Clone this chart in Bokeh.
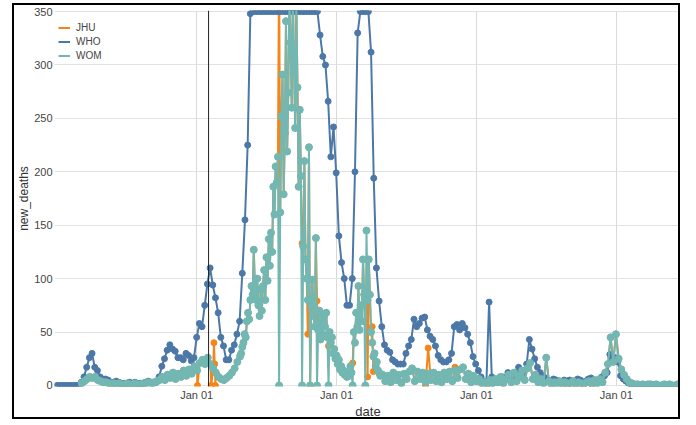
import pandas as pd
from bokeh.plotting import figure
from bokeh.models import Range1d, FixedTicker, DatetimeTickFormatter, Span, Legend, LegendItem
from bokeh.embed import file_html
from bokeh.resources import INLINE

# ---------------- data ----------------
# WHO: weekly points from 2020-01-03
who_start = "2020-01-03"
who_vals = [
    0, 0, 0, 0, 0, 0, 0, 0, 0,
    3, 8, 17, 26, 30, 17, 14, 8, 6, 6, 5, 3, 3,
    4, 3, 2, 2, 2, 3, 2, 3, 2, 2, 2, 3, 4, 3, 2, 3,
    8, 18, 25, 33, 38, 34, 32, 26, 26, 24, 30, 28, 23, 26,
    45, 58, 55, 75, 95, 110, 94, 82, 68, 45, 37, 24, 24, 33, 38, 48, 60, 105, 155, 225, 348,
    350, 350, 350, 350, 350,
    350, 350, 350, 350, 350,
    350, 350, 350, 350, 350,
    350, 350, 350, 350, 350,
    350, 350, 350, 350, 350,
    328, 308, 300, 266, 214, 242, 199, 140, 115, 100,
    75, 75, 100, 200, 330, 350, 350, 350, 350, 312,
    194, 110, 79, 55, 38, 33,
    31, 24, 22, 20, 20, 20, 30, 37, 43, 62,
    55, 58, 63, 64, 52, 46, 43, 37, 28, 24,
    22, 22, 24, 30, 55, 57, 52, 58, 54, 48,
    40, 27, 20, 14, 8, 4, 3,
    78, 8, 4, 3, 6, 8, 5, 12, 6, 5,
    8, 17, 8, 6, 20, 43, 34, 25, 17, 12,
    9, 7, 5, 4, 6, 5, 4, 3, 5, 4,
    5, 3, 4, 6, 5, 3, 4, 6, 7, 5,
    4, 6, 8, 9, 12, 29, 25, 26, 22, 9,
    6, 4, 2,
    1, 1, 0, 1, 0, 0, 1, 0, 0, 1, 0, 0, 0, 1, 0, 0, 0, 0,
]

# WOM: weekly from 2020-03-07, every 3 days from 2021-04-24, weekly again from 2022-05-01
wom_early_start = "2020-03-07"
wom_early_vals = [
    2, 4, 6, 8, 7, 8, 5, 4, 3, 3,
    2, 2, 2, 1, 2, 1, 1, 2, 1, 1,
    2, 1, 1, 2, 2, 3, 2, 3, 4, 5,
    8, 5, 10, 7, 12, 6, 11, 8, 14, 9,
    15, 11, 18, 14, 21, 24, 20, 26, 20, 16,
    12, 8, 6, 5, 7, 9, 12, 16, 22,
]
wom_peak_start = "2021-04-24"
wom_peak_vals = [
    27, 30, 36, 40, 48, 45, 60, 68, 62, 80, 93,
    85, 127, 90, 80, 100, 75, 65, 90, 70,
    93, 108, 80, 120, 98, 137, 112, 143, 125,
    186, 160, 205, 190, 214, 0,
    162, 252, 291, 179, 236, 341, 219, 274, 370, 321, 260, 365, 300, 241, 360, 279, 186, 258,
    196, 0, 130, 210, 118, 100, 80, 223, 0, 74, 99, 65, 55, 138, 0, 52, 70,
    43, 60, 48, 65, 55, 68, 45, 0, 50, 40, 45, 30, 34, 25, 28, 20, 24, 15, 18, 12, 14, 10,
    12, 8, 10, 9, 18, 12, 0, 50, 40,
    68, 55, 93, 52, 75, 60, 118, 85, 0, 145, 80, 118, 85, 50,
    40, 27, 30, 18, 22, 14, 12, 9, 10,
]
wom_late_start = "2022-05-01"
wom_late_vals = [
    10, 4, 9, 3, 12, 5, 10, 2, 11, 6,
    13, 16, 4, 13, 6, 12, 3, 11, 5, 12,
    4, 10, 3, 12, 6, 13, 4, 14, 7, 15,
    17, 6, 11, 3, 9, 4, 6, 2,
    3, 1, 5, 2, 6, 3, 8, 2, 6, 10,
    3, 12, 4, 9, 14, 5, 16, 21, 6, 10,
    3, 6, 2, 26, 4, 1, 3, 2, 4, 1,
    3, 1, 2, 4, 1, 3, 2, 1, 3, 4,
    1, 5, 2, 6, 3, 12, 20, 45, 22, 48,
    25, 15, 10, 6, 3, 2, 1,
    1, 0, 1, 0, 1, 1, 0, 1, 0, 0, 1, 0, 1, 0, 0, 1,
]

# JHU lies under WOM except on these dates, where it differs
jhu_diff = {
    "2021-01-03": 0, "2021-02-08": 0, "2021-02-15": 40, "2021-02-17": 20, "2021-02-19": 0,
    "2021-08-04": 400, "2021-10-03": 133, "2021-10-18": 48, "2021-11-11": 79,
    "2021-12-11": 37, "2022-02-12": 21, "2022-03-17": 60, "2022-03-20": 83,
    "2022-03-23": 8, "2022-04-04": 55, "2022-04-07": 13,
    "2022-08-21": 0, "2022-08-28": 35, "2022-11-06": 17,
}

x_ticks = ["2021-01-01", "2022-01-01", "2023-01-01", "2024-01-01"]
y_ticks = [0, 50, 100, 150, 200, 250, 300, 350]
x_start, x_end = "2019-12-27", "2024-06-19"
marker_date = "2021-02-01"

# ---------------- build series ----------------
who = pd.Series(who_vals, index=pd.date_range(who_start, periods=len(who_vals), freq="7D"))
wom = pd.concat([
    pd.Series(wom_early_vals, index=pd.date_range(wom_early_start, periods=len(wom_early_vals), freq="7D")),
    pd.Series(wom_peak_vals, index=pd.date_range(wom_peak_start, periods=len(wom_peak_vals), freq="3D")),
    pd.Series(wom_late_vals, index=pd.date_range(wom_late_start, periods=len(wom_late_vals), freq="7D")),
])
jhu = wom.copy()
for d, v in jhu_diff.items():
    jhu[pd.Timestamp(d)] = v
jhu = jhu.sort_index()

def ms(s):
    return pd.Timestamp(s).value / 1e6

C_JHU, C_WHO, C_WOM = "#F58518", "#4C78A8", "#72B7B2"
FONT = "Liberation Sans"

p = figure(width=668, height=416, x_axis_type="datetime",
           x_range=Range1d(ms(x_start), ms(x_end)), y_range=Range1d(-1, 351),
           output_backend="svg", toolbar_location=None,
           min_border_left=38, min_border_right=1, min_border_top=5, min_border_bottom=33)
p.styles = {"border": "2px solid black", "margin-left": "12px", "margin-top": "3px"}
p.outline_line_color = None

xt = FixedTicker(ticks=[ms(t) for t in x_ticks])
yt = FixedTicker(ticks=y_ticks)
p.xaxis.ticker = xt
p.xgrid.ticker = xt
p.yaxis.ticker = yt
p.ygrid.ticker = yt
p.xaxis.formatter = DatetimeTickFormatter(years="%b %d", months="%b %d", days="%b %d",
                                          hours="%b %d", minutes="%b %d", strip_leading_zeros=False)
for ax in (p.xaxis, p.yaxis):
    ax.axis_line_color = None
    ax.major_tick_line_color = None
    ax.minor_tick_line_color = None
    ax.major_tick_out = 0
    ax.major_tick_in = 0
    ax.minor_tick_out = 0
    ax.minor_tick_in = 0
    ax.major_label_text_font = FONT
    ax.major_label_text_font_size = "11px"
    ax.major_label_text_color = "#444444"
    ax.axis_label_text_font = FONT
    ax.axis_label_text_font_size = "13px"
    ax.axis_label_text_font_style = "normal"
    ax.axis_label_text_color = "#333333"
    ax.major_label_standoff = 2
    ax.axis_label_standoff = 0
p.yaxis.axis_label_text_font_size = "12px"
p.xaxis.axis_label = "date"
p.yaxis.axis_label = "new_deaths"
p.xgrid.grid_line_color = "#d9d9d9"
p.ygrid.grid_line_color = "#e2e2e2"

l_jhu = p.line(jhu.index, jhu.values, line_color=C_JHU, line_width=2)
p.scatter(jhu.index, jhu.values, size=6, color=C_JHU)
l_who = p.line(who.index, who.values, line_color=C_WHO, line_width=2)
p.scatter(who.index, who.values, size=6, color=C_WHO)
l_wom = p.line(wom.index, wom.values, line_color=C_WOM, line_width=2)
p.scatter(wom.index, wom.values, size=7, color=C_WOM)

p.add_layout(Span(location=ms(marker_date), dimension="height", line_color="#222222", line_width=1))

legend = Legend(items=[LegendItem(label="JHU", renderers=[l_jhu]),
                       LegendItem(label="WHO", renderers=[l_who]),
                       LegendItem(label="WOM", renderers=[l_wom])],
                location=(4, 324), margin=0, padding=0, spacing=1,
                glyph_width=12, glyph_height=13, label_height=13, label_standoff=6,
                label_text_font=FONT, label_text_font_size="10px", label_text_color="#444444",
                background_fill_alpha=0, border_line_color=None)
p.add_layout(legend)

open("out.html", "w").write(file_html(p, INLINE))
